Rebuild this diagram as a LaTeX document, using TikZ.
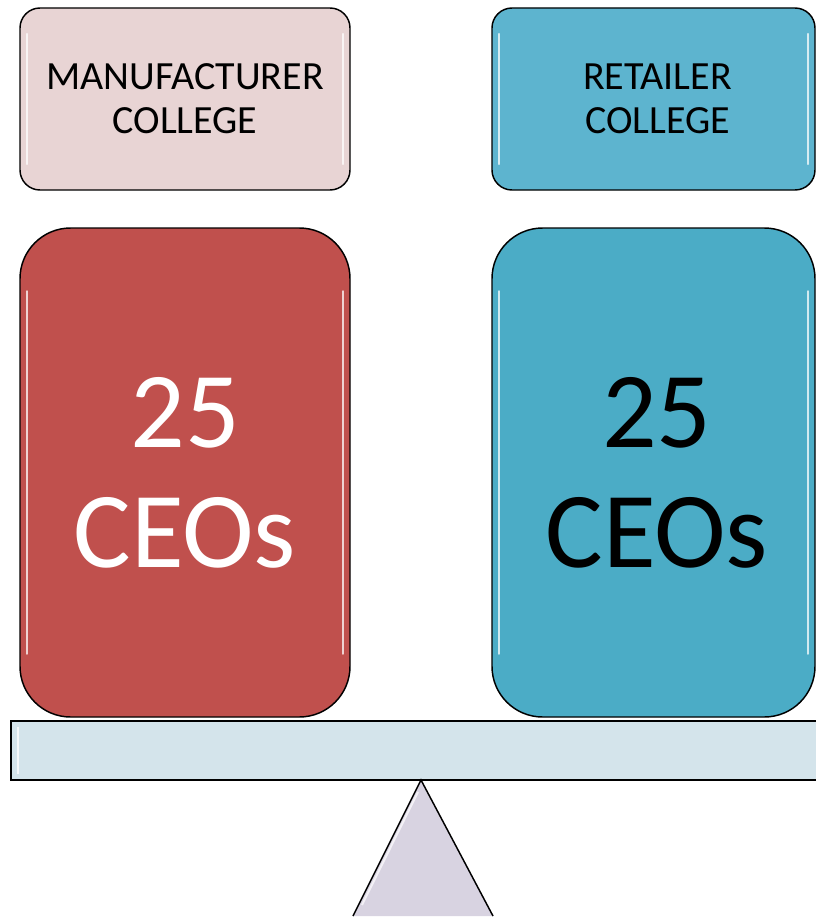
\documentclass[tikz,border=0pt]{standalone}
\usepackage{fontspec}
\setmainfont{Carlito}
\begin{document}
\begin{tikzpicture}[x=0.75pt,y=-0.75pt,
  smallbox/.style={draw=black,line width=1.1pt,rounded corners=15pt,
    minimum height=136.5pt,inner sep=0pt,align=center,
    font=\fontsize{30}{33}\selectfont},
  bigbox/.style={draw=black,line width=1.1pt,rounded corners=38pt,
    minimum height=366.75pt,inner sep=0pt,align=center,
    font=\fontsize{81}{90}\selectfont},
  gloss/.style={white,line width=1.6pt,opacity=0.75,line cap=round}]
\useasboundingbox (0,0) rectangle (816,917);
\definecolor{mfgtop}{HTML}{E8D4D4}
\definecolor{rettop}{HTML}{5DB4CF}
\definecolor{mfgbig}{HTML}{C0504D}
\definecolor{retbig}{HTML}{4BACC6}
\definecolor{beamc}{HTML}{D4E4EB}
\definecolor{fulc}{HTML}{D8D3E1}

% top boxes
\node[smallbox,fill=mfgtop,minimum width=247.5pt] (mtop) at (185,99) {MANUFACTURER\\COLLEGE};
\node[smallbox,fill=rettop,minimum width=242.25pt] (rtop) at (653.5,99) {\hspace*{6pt}RETAILER\\\hspace*{6pt}COLLEGE};
\draw[gloss] ([xshift=6pt,yshift=-20pt]mtop.north west) -- ([xshift=6pt,yshift=20pt]mtop.south west);
\draw[gloss] ([xshift=-6pt,yshift=-20pt]mtop.north east) -- ([xshift=-6pt,yshift=20pt]mtop.south east);
\draw[gloss] ([xshift=6pt,yshift=-20pt]rtop.north west) -- ([xshift=6pt,yshift=20pt]rtop.south west);
\draw[gloss] ([xshift=-6pt,yshift=-20pt]rtop.north east) -- ([xshift=-6pt,yshift=20pt]rtop.south east);

% big boxes
\node[bigbox,fill=mfgbig,text=white,minimum width=247.5pt] (mbig) at (185,472.5) {25\\CEOs};
\node[bigbox,fill=retbig,text=black,minimum width=242.25pt] (rbig) at (653.5,472.5) {\hspace*{5pt}25\\\hspace*{5pt}CEOs};
\foreach \b in {mbig,rbig}{
  \draw[gloss] ([xshift=6pt,yshift=-48pt]\b.north west) -- ([xshift=6pt,yshift=48pt]\b.south west);
  \draw[gloss] ([xshift=-6pt,yshift=-48pt]\b.north east) -- ([xshift=-6pt,yshift=48pt]\b.south east);
}

% beam
\node[draw=black,line width=1.5pt,fill=beamc,minimum width=612pt,minimum height=44.25pt,inner sep=0pt,anchor=north west] (beam) at (10,720) {};
\draw[white,line width=1.5pt,opacity=0.8] ([xshift=6pt,yshift=-5pt]beam.north west) -- ([xshift=6pt,yshift=5pt]beam.south west);

% fulcrum
\coordinate (apex) at (421,780);
\coordinate (bl) at (353,916);
\coordinate (br) at (493,916);
\draw[black,line width=1.1pt,fill=fulc,line join=miter] (bl) -- (apex) -- (br);
\draw[white,line width=1.5pt,opacity=0.7] (418,792) -- (362,905);
\end{tikzpicture}
\end{document}
